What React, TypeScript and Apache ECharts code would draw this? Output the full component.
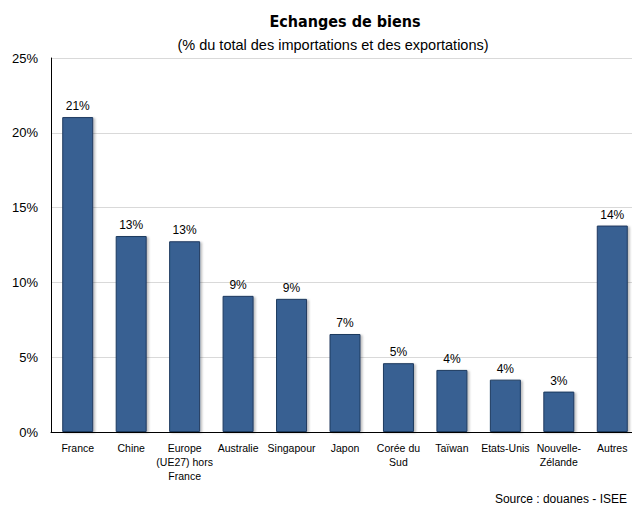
import React, { useEffect, useRef } from "react";
import * as echarts from "echarts";

const categories = [
  "France",
  "Chine",
  "Europe\n(UE27) hors\nFrance",
  "Australie",
  "Singapour",
  "Japon",
  "Corée du\nSud",
  "Taïwan",
  "Etats-Unis",
  "Nouvelle-\nZélande",
  "Autres",
];
const values = [21.05, 13.1, 12.75, 9.1, 8.9, 6.55, 4.6, 4.15, 3.5, 2.7, 13.8];
const yTicks = [0, 5, 10, 15, 20, 25];

const narrow = "'Liberation Sans Narrow', 'Arial Narrow', 'Liberation Sans', Arial, sans-serif";
const CHART_W = 660;

export default function App() {
  const ref = useRef<HTMLDivElement>(null);
  useEffect(() => {
    if (!ref.current) return;
    const chart = echarts.init(ref.current, undefined, { renderer: "svg" });
    chart.setOption({
      animation: false,
      backgroundColor: "#ffffff",
      title: [
        {
          text: "Echanges de biens",
          left: 340,
          textAlign: "center",
          top: 8,
          textStyle: { fontFamily: "'DejaVu Sans Condensed', 'DejaVu Sans', sans-serif", fontWeight: "bold", fontSize: 16, color: "#000" },
        },
        {
          text: "(% du total des importations et des exportations)",
          left: 328,
          textAlign: "center",
          top: 32,
          textStyle: { fontFamily: "'Liberation Sans', Arial, sans-serif", fontWeight: "normal", fontSize: 14.5, color: "#000" },
        },
        {
          text: "Source : douanes - ISEE",
          right: 28,
          top: 488,
          textStyle: { fontFamily: "'Liberation Sans', Arial, sans-serif", fontWeight: "normal", fontSize: 12, color: "#000" },
        },
      ],
      grid: { left: 51, top: 58, width: 588, height: 374 },
      xAxis: {
        type: "category",
        data: categories,
        axisLine: { show: true, lineStyle: { color: "#000", width: 1 } },
        axisTick: { show: false },
        axisLabel: {
          interval: 0,
          margin: 9,
          fontFamily: narrow,
          fontSize: 10.5,
          lineHeight: 14,
          color: "#000",
        },
      },
      yAxis: {
        type: "value",
        min: 0,
        max: 25,
        interval: 5,
        axisLine: { show: true, lineStyle: { color: "#000", width: 1 } },
        axisTick: { show: false },
        splitLine: { show: true, lineStyle: { color: "#d9d9d9", width: 1 } },
        axisLabel: {
          formatter: (v: number) => (yTicks.includes(v) ? `${v}%` : ""),
          fontFamily: "'Liberation Sans', Arial, sans-serif",
          fontSize: 13,
          color: "#000",
          margin: 13,
        },
      },
      series: [
        {
          type: "bar",
          data: values,
          barWidth: 31,
          itemStyle: {
            color: "#376092",
            borderColor: "#1f3a5f",
            borderWidth: 1,
            shadowColor: "rgba(0,0,0,0.25)",
            shadowOffsetX: 2,
            shadowOffsetY: 1,
            shadowBlur: 2,
          },
          label: {
            show: true,
            position: "top",
            distance: 5,
            formatter: (p: any) => `${Math.round(p.value)}%`,
            fontFamily: "'Liberation Sans', Arial, sans-serif",
            fontSize: 12,
            color: "#000",
          },
        },
      ],
    });
    return () => chart.dispose();
  }, []);
  return (
    <div style={{ width: 632, height: 505, position: "absolute", left: 0, top: 0, overflow: "hidden", background: "#fff" }}>
      <div ref={ref} style={{ width: CHART_W, height: 505 }} />
    </div>
  );
}
